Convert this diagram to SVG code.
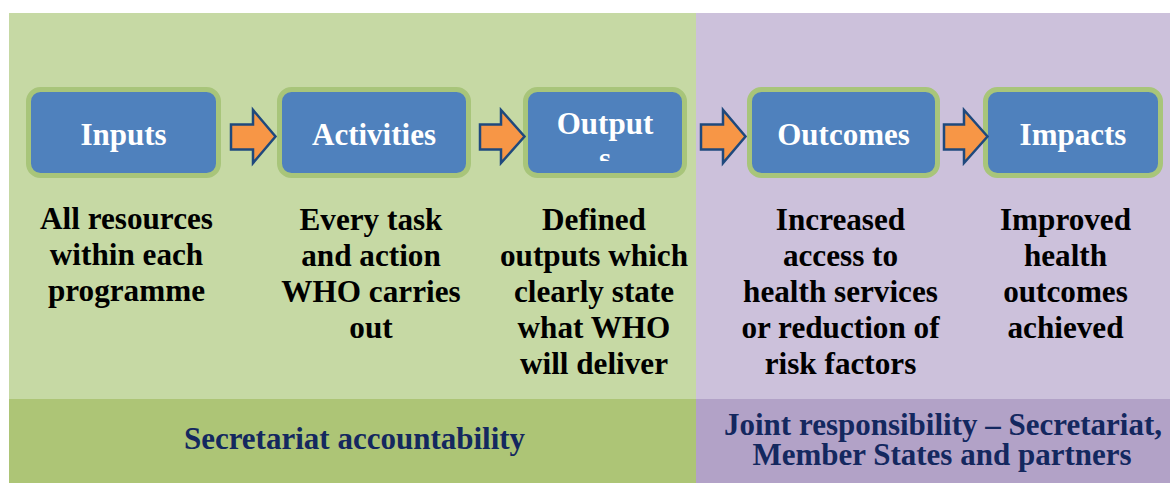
<svg xmlns="http://www.w3.org/2000/svg" width="1170" height="483" viewBox="0 0 1170 483">
<defs>
<style>
.box{fill:#4F81BD;stroke:#A8C57A;stroke-width:5}
.lbl{font-weight:bold;font-size:31px;fill:#FFFFFF;text-anchor:middle}
.body{font-weight:bold;font-size:31.2px;fill:#000000;text-anchor:middle}
.foot{font-weight:bold;font-size:31px;fill:#14285F;text-anchor:middle}
.arr{fill:#F79646;stroke:#1F497D;stroke-width:2.5;stroke-linejoin:miter}
</style>
<clipPath id="outclip"><rect x="525" y="90" width="160" height="71"/></clipPath>
</defs>
<rect x="0" y="0" width="1170" height="483" fill="#FFFFFF"/>
<g id="panels">
<rect x="9" y="13" width="687" height="386" fill="#C6D9A4"/>
<rect x="696" y="13" width="474" height="386" fill="#CCC1DB"/>
<rect x="9" y="399" width="687" height="84" fill="#ADC576"/>
<rect x="696" y="399" width="474" height="84" fill="#B2A2C7"/>
</g>
<g font-family="'Liberation Serif', 'DejaVu Serif', serif">
<g id="node-inputs">
<rect class="box" x="28.5" y="89.5" width="190" height="86" rx="12"/>
<text class="lbl" x="123.5" y="145">Inputs</text>
<text class="body" x="126.5"><tspan x="126.5" y="229">All resources</tspan><tspan x="126.5" y="265">within each</tspan><tspan x="126.5" y="301">programme</tspan></text>
</g>
<g id="node-activities">
<rect class="box" x="279.5" y="89.5" width="189" height="86" rx="12"/>
<text class="lbl" x="374" y="145">Activities</text>
<text class="body"><tspan x="371" y="230">Every task</tspan><tspan x="371" y="266">and action</tspan><tspan x="371" y="302">WHO carries</tspan><tspan x="371" y="338">out</tspan></text>
</g>
<g id="node-outputs">
<rect class="box" x="525.5" y="89.5" width="159" height="86" rx="12"/>
<text class="lbl" x="605" y="134">Output</text>
<text class="lbl" x="605" y="169" clip-path="url(#outclip)">s</text>
<text class="body"><tspan x="594" y="230">Defined</tspan><tspan x="594" y="266">outputs which</tspan><tspan x="594" y="302">clearly state</tspan><tspan x="594" y="338">what WHO</tspan><tspan x="594" y="374">will deliver</tspan></text>
</g>
<g id="node-outcomes">
<rect class="box" x="749.5" y="89.5" width="188" height="86" rx="12"/>
<text class="lbl" x="843.5" y="145">Outcomes</text>
<text class="body"><tspan x="840.5" y="230">Increased</tspan><tspan x="840.5" y="266">access to</tspan><tspan x="840.5" y="302">health services</tspan><tspan x="840.5" y="338">or reduction of</tspan><tspan x="840.5" y="374">risk factors</tspan></text>
</g>
<g id="node-impacts">
<rect class="box" x="985.5" y="89.5" width="175" height="86" rx="12"/>
<text class="lbl" x="1073" y="145">Impacts</text>
<text class="body"><tspan x="1065.5" y="230">Improved</tspan><tspan x="1065.5" y="266">health</tspan><tspan x="1065.5" y="302">outcomes</tspan><tspan x="1065.5" y="338">achieved</tspan></text>
</g>
<g id="connectors">
<polygon class="arr" points="231,124.5 253,124.5 253,110 275.5,136.5 253,163 253,149.5 231,149.5"/>
<polygon class="arr" points="480,124.5 501,124.5 501,110 524.5,136.5 501,163 501,149.5 480,149.5"/>
<polygon class="arr" points="701,124.5 723,124.5 723,110 745.5,136.5 723,163 723,149.5 701,149.5"/>
<polygon class="arr" points="944,124.5 964,124.5 964,110 987.5,136.5 964,163 964,149.5 944,149.5"/>
</g>
<g id="footer">
<text class="foot" x="354.5" y="449">Secretariat accountability</text>
<text class="foot"><tspan x="943" y="435">Joint responsibility – Secretariat,</tspan><tspan x="942" y="465">Member States and partners</tspan></text>
</g>
</g>
</svg>
